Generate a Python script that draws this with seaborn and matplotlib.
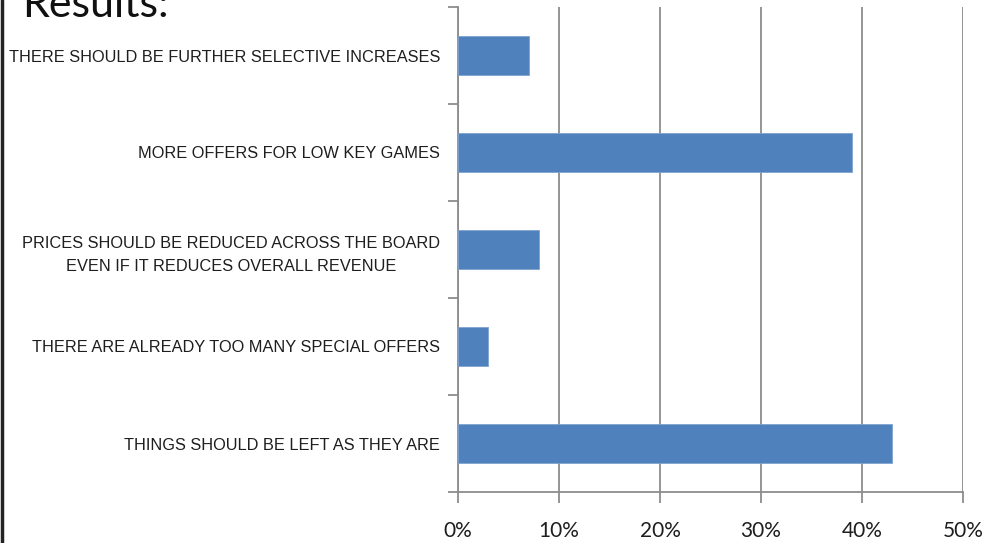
import matplotlib
matplotlib.use("Agg")
import matplotlib.pyplot as plt
from matplotlib.lines import Line2D
from matplotlib.ticker import MultipleLocator, PercentFormatter
import seaborn as sns
import pandas as pd

# Survey answers (top to bottom) and share of respondents
answers = [
    "THERE SHOULD BE FURTHER SELECTIVE INCREASES",
    "MORE OFFERS FOR LOW KEY GAMES",
    "PRICES SHOULD BE REDUCED ACROSS THE BOARD\nEVEN IF IT REDUCES OVERALL REVENUE",
    "THERE ARE ALREADY TOO MANY SPECIAL OFFERS",
    "THINGS SHOULD BE LEFT AS THEY ARE",
]
shares = [0.07, 0.39, 0.08, 0.03, 0.43]
x_ticks = [0.0, 0.1, 0.2, 0.3, 0.4, 0.5]

df = pd.DataFrame({"answer": answers, "share": shares})

sns.set_theme(style="white")
plt.rcParams["font.family"] = ["Liberation Sans", "DejaVu Sans"]

fig = plt.figure(figsize=(9.88, 5.43), dpi=100)
ax = fig.add_axes([458 / 988, 1 - 492 / 543, (963 - 458) / 988, (492 - 7) / 543])

sns.barplot(data=df, x="share", y="answer", orient="h", color="#4F81BD",
            saturation=1, width=0.4, edgecolor="#7FA3D1", linewidth=0.6,
            ax=ax, zorder=3)

grid_c = "#8C8C8C"
ax.set_xlim(0, 0.5)
ax.set_ylim(len(answers) - 0.5, -0.5)
ax.set_xticks(x_ticks)
ax.xaxis.set_major_formatter(PercentFormatter(1.0, decimals=0))
ax.grid(axis="x", color=grid_c, linewidth=1.3, zorder=0)
ax.grid(axis="y", visible=False)
ax.set_xlabel("")
ax.set_ylabel("")

for side in ("top", "right"):
    ax.spines[side].set_visible(False)
for side in ("left", "bottom"):
    ax.spines[side].set_color(grid_c)
    ax.spines[side].set_linewidth(1.3)

ax.tick_params(axis="x", direction="out", length=8, width=1.3, color=grid_c,
               pad=13, labelsize=15, labelcolor="#1E1E1E", bottom=True)
for lbl in ax.get_xticklabels():
    lbl.set_fontfamily(["Lato", "DejaVu Sans"])

# category boundaries get small outward ticks, labels sit at the centres
ax.yaxis.set_minor_locator(MultipleLocator(1, offset=0.5))
ax.tick_params(axis="y", which="minor", direction="out", length=7, width=1.3,
               color=grid_c, left=True)
ax.tick_params(axis="y", which="major", length=0, pad=13, labelsize=11.8,
               labelcolor="#1E1E1E")
for lbl in ax.get_yticklabels():
    lbl.set_multialignment("center")
    lbl.set_linespacing(1.7)

fig.text(22 / 988, 1 - 17 / 543, "Results:", fontsize=31,
         family=["Lato", "DejaVu Sans"], color="#111111", va="baseline", ha="left")

fig.add_artist(Line2D([2 / 988, 2 / 988], [0, 1], transform=fig.transFigure,
                      color="#222222", linewidth=2.5))

fig.savefig("out.png", dpi=100)
